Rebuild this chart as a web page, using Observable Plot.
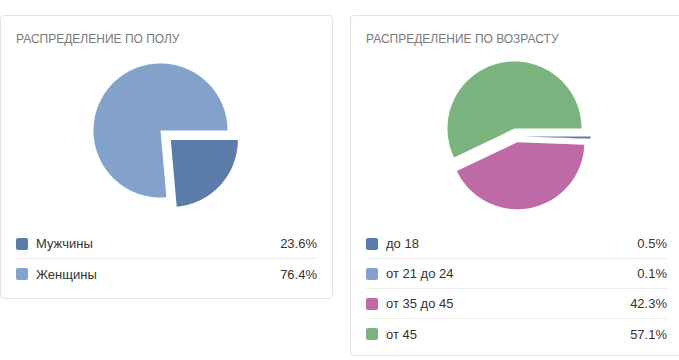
<!DOCTYPE html>
<html><head><meta charset="utf-8">
<script src="https://cdn.jsdelivr.net/npm/d3@7"></script>
<script src="https://cdn.jsdelivr.net/npm/@observablehq/plot@0.6"></script>
<style>
body{margin:0;width:679px;height:360px;position:relative;overflow:hidden;background:#fff;font-family:"Liberation Sans",Arial,sans-serif;}
.card{position:absolute;box-sizing:border-box;border:1px solid #e4e4e4;border-radius:4px;background:#fff;}
.title{position:absolute;left:15px;top:16px;font-size:12px;line-height:14px;color:#7a7a7a;letter-spacing:0;white-space:nowrap;}
.pie{position:absolute;}
.legend{position:absolute;left:15px;right:15px;}
.row{height:30px;display:flex;align-items:center;font-size:13px;color:#333;border-bottom:1px solid #ececec;box-sizing:border-box;}
.row:last-child{border-bottom:none;}
.sw{width:12px;height:12px;border-radius:2px;margin-right:8px;flex:none;}
.lab{flex:1;}
.val{text-align:right;}
</style></head>
<body>
<div class="card" id="c1" style="left:0px;top:15px;width:333px;height:284px;"></div>
<div class="card" id="c2" style="left:350px;top:15px;width:333px;height:341px;"></div>
<script>
const genderTitle = "РАСПРЕДЕЛЕНИЕ ПО ПОЛУ";
const genderLabels = ["Мужчины", "Женщины"];
const genderValues = [23.6, 76.4];
const genderColors = ["#5b7ba8", "#82a1cb"];
const genderExplode = [14, 0];
const genderExplodeDir = [null, null];

const ageTitle = "РАСПРЕДЕЛЕНИЕ ПО ВОЗРАСТУ";
const ageLabels = ["до 18", "от 21 до 24", "от 35 до 45", "от 45"];
const ageValues = [0.5, 0.1, 42.3, 57.1];
const ageColors = ["#5b7ba8", "#82a1cb", "#bf69a6", "#7bb37e"];
const ageExplode = [12, 12, 14, 0];
const ageExplodeDir = [2.3, 2.3, null, null]; // radians (clockwise from 12 o'clock); null = slice bisector

const R = 67;

function pieChart(labels, values, colors, explode, dirs) {
  const arcs = d3.pie().sort(null).startAngle(Math.PI / 2).endAngle(Math.PI / 2 + 2 * Math.PI)(values);
  const marks = arcs.map((a, i) => {
    const mid = dirs[i] == null ? (a.startAngle + a.endAngle) / 2 : dirs[i];
    const dx = explode[i] * Math.sin(mid), dy = -explode[i] * Math.cos(mid);
    const n = Math.max(2, Math.ceil((a.endAngle - a.startAngle) / 0.02));
    const pts = [{x: dx, y: dy}];
    for (let k = 0; k <= n; k++) {
      const t = a.startAngle + (a.endAngle - a.startAngle) * k / n;
      pts.push({x: dx + R * Math.sin(t), y: dy - R * Math.cos(t)});
    }
    return Plot.line(pts, {x: "x", y: "y", fill: colors[i], stroke: "none", curve: "linear-closed"});
  });
  return Plot.plot({
    width: 200, height: 170, margin: 0,
    x: {domain: [-100, 100], axis: null},
    y: {domain: [-85, 85], reverse: true, axis: null},
    style: {background: "transparent"},
    marks
  });
}

function buildCard(el, title, labels, values, colors, explode, dirs, pieLeft, pieTop) {
  const t = document.createElement("div");
  t.className = "title"; t.textContent = title; el.appendChild(t);
  const svg = pieChart(labels, values, colors, explode, dirs);
  const wrap = document.createElement("div");
  wrap.className = "pie"; wrap.style.left = pieLeft + "px"; wrap.style.top = pieTop + "px";
  wrap.appendChild(svg); el.appendChild(wrap);
  const lg = document.createElement("div");
  lg.className = "legend"; lg.style.top = "213px";
  labels.forEach((l, i) => {
    const r = document.createElement("div"); r.className = "row";
    const s = document.createElement("div"); s.className = "sw"; s.style.background = colors[i];
    const a = document.createElement("div"); a.className = "lab"; a.textContent = l;
    const v = document.createElement("div"); v.className = "val"; v.textContent = values[i].toFixed(1) + "%";
    r.append(s, a, v); lg.appendChild(r);
  });
  el.appendChild(lg);
}

buildCard(document.getElementById("c1"), genderTitle, genderLabels, genderValues, genderColors, genderExplode, genderExplodeDir, 59, 29);
buildCard(document.getElementById("c2"), ageTitle, ageLabels, ageValues, ageColors, ageExplode, ageExplodeDir, 63, 27);
</script>
</body></html>
